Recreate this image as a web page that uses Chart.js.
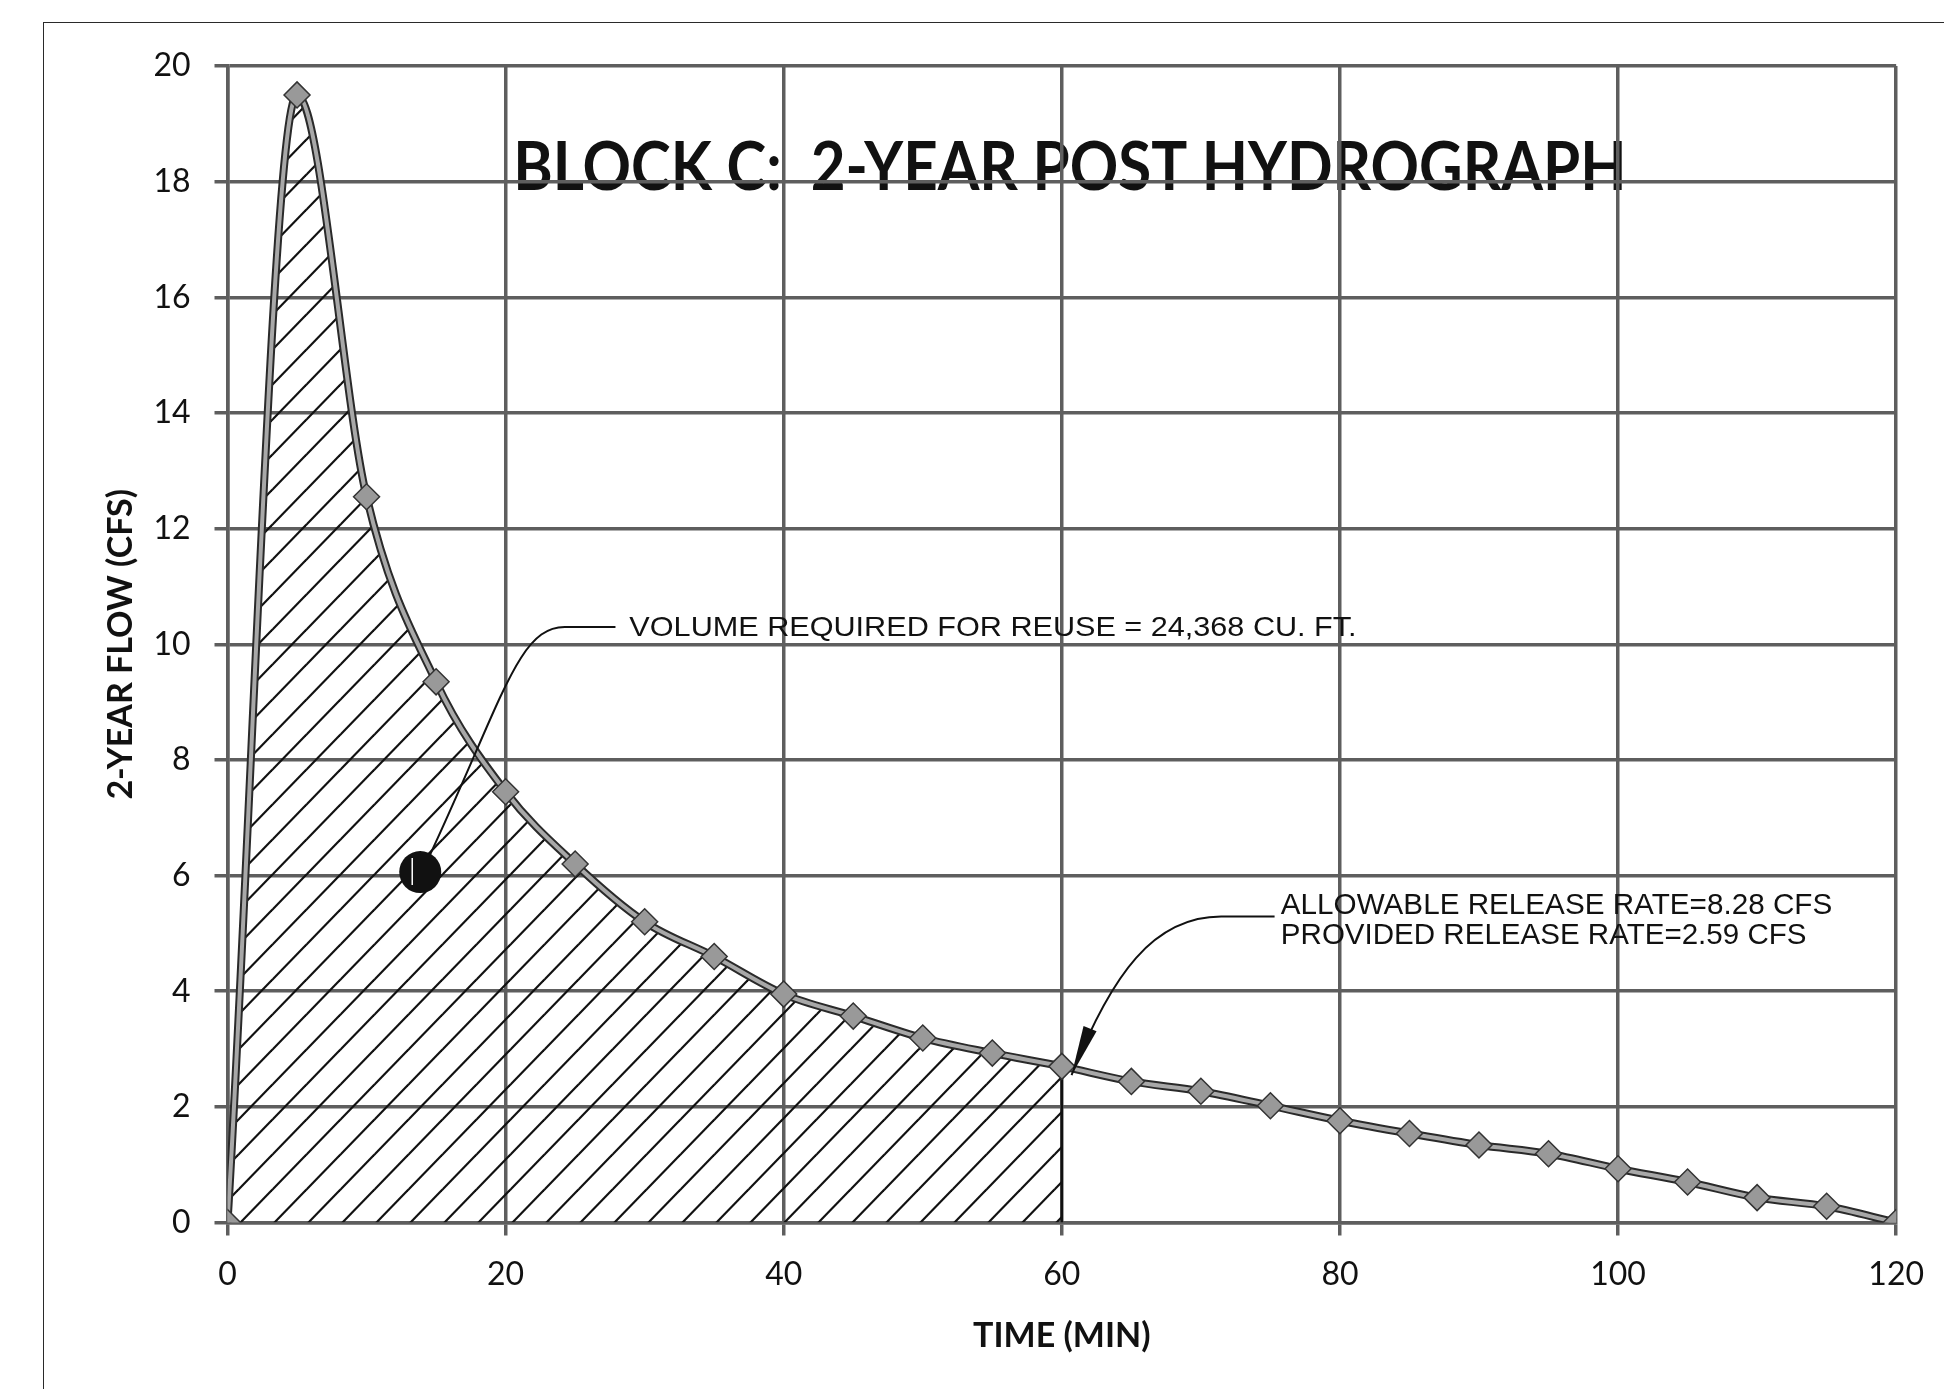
<!DOCTYPE html>
<html>
<head>
<meta charset="utf-8">
<title>Block C - 2-Year Post Hydrograph</title>
<script src="https://cdn.jsdelivr.net/npm/chart.js@4.4.1/dist/chart.umd.min.js"></script>
<style>
  html, body { margin: 0; padding: 0; background: #fff; overflow: hidden; }
  #wrap  { position: relative; width: 1944px; height: 1389px; }
  #frame { position: absolute; left: 43px; top: 22px; width: 2000px; height: 1500px;
           border-left: 1.5px solid #2a2a2a; border-top: 1.5px solid #2a2a2a; }
  #chart-hydrograph { position: absolute; left: 0; top: 0; }
</style>
</head>
<body>
<div id="wrap">
  <div id="frame"></div>
  <canvas id="chart-hydrograph" width="1944" height="1389"></canvas>
</div>
<script>
const timeMin = [0, 5, 10, 15, 20, 25, 30, 35, 40, 45, 50, 55, 60,
                 65, 70, 75, 80, 85, 90, 95, 100, 105, 110, 115, 120];
const flowCfs = [0, 19.5, 12.55, 9.35, 7.45, 6.2, 5.2, 4.6, 3.95, 3.57, 3.19, 2.93, 2.7,
                 2.44, 2.27, 2.02, 1.76, 1.54, 1.34, 1.19, 0.93, 0.70, 0.43, 0.28, 0];
const xTickValues = [0, 20, 40, 60, 80, 100, 120];
const yTickValues = [0, 2, 4, 6, 8, 10, 12, 14, 16, 18, 20];
const storageEndMin = 60;   // hatched volume ends at 60 min

const chartTitle  = 'BLOCK C:  2-YEAR POST HYDROGRAPH';
const xAxisTitle  = 'TIME (MIN)';
const yAxisTitle  = '2-YEAR FLOW (CFS)';
const volumeNote  = 'VOLUME REQUIRED FOR REUSE = 24,368 CU. FT.';
const releaseNote = ['ALLOWABLE RELEASE RATE=8.28 CFS', 'PROVIDED RELEASE RATE=2.59 CFS'];

/* ── styles ── */
const C = {
  grid  : '#5e5e5e',
  text  : '#111',
  lineDk: '#2a2a2a',
  lineLt: '#a8a8a8',
  marker: '#999',
  ink   : '#111',
};
/* smoothed line without the wiggles of a plain bezier */
const SMOOTH = { cubicInterpolationMode: 'monotone' };

const points    = timeMin.map((t, i) => ({ x: t, y: flowCfs[i] }));
const endIdx    = timeMin.indexOf(storageEndMin);
const stored    = points.slice(0, endIdx + 1);
const endMarker = [{ x: storageEndMin, y: 0 }, { x: storageEndMin, y: flowCfs[endIdx] }];

/* diagonal hatch pattern */
function hatchPattern() {
  const w = 34, h = 35;
  const c = document.createElement('canvas');
  c.width = w; c.height = h;
  const g = c.getContext('2d');
  g.strokeStyle = C.ink;
  g.lineWidth = 2.2;
  [-w, 0, w].forEach(dx => {
    g.beginPath();
    g.moveTo(-w + dx, 2 * h);
    g.lineTo(2 * w + dx, -h);
    g.stroke();
  });
  return g.createPattern(c, 'repeat');
}

/* squeeze text to a given pixel width (scanned fonts are condensed) */
function fitText(ctx, text, x, y, width) {
  const m = ctx.measureText(text).width;
  ctx.save();
  ctx.translate(x, y);
  ctx.scale(width / m, 1);
  ctx.fillText(text, 0, 0);
  ctx.restore();
}

/* title sits inside the plot, under the grid lines */
const titlePlugin = {
  id: 'plotTitle',
  beforeDraw(chart) {
    const { ctx, scales: { x, y } } = chart;
    ctx.save();
    ctx.fillStyle = C.ink;
    ctx.font = 'bold 67px Lato, "Open Sans", sans-serif';
    ctx.textBaseline = 'alphabetic';
    const x0 = x.getPixelForValue(20.55), x1 = x.getPixelForValue(100.6);
    fitText(ctx, chartTitle, x0, y.getPixelForValue(17.85), x1 - x0);
    ctx.restore();
  },
};

/* drafting notes, leaders, dot and arrow */
const notesPlugin = {
  id: 'notes',
  afterDatasetsDraw(chart) {
    const { ctx, scales: { x, y } } = chart;
    const P = (t, v) => [x.getPixelForValue(t), y.getPixelForValue(v)];
    ctx.save();
    ctx.fillStyle = C.ink;
    ctx.strokeStyle = C.ink;
    ctx.textBaseline = 'alphabetic';

    // volume note
    ctx.font = '28px "Liberation Sans Narrow", "Liberation Sans", sans-serif';
    let a = P(28.9, 10.14), b = P(81.2, 10.14);
    fitText(ctx, volumeNote, a[0], a[1], b[0] - a[0]);

    ctx.lineWidth = 2;
    ctx.beginPath();
    let p0 = P(27.9, 10.3), p1 = P(24.25, 10.3), c1 = P(20.9, 10.3), c2 = P(19.8, 9.05), pe = P(14.45, 6.3);
    ctx.moveTo(...p0); ctx.lineTo(...p1);
    ctx.bezierCurveTo(...c1, ...c2, ...pe);
    ctx.stroke();

    const d = P(13.86, 6.06);
    ctx.beginPath();
    ctx.arc(d[0], d[1], 21, 0, Math.PI * 2);
    ctx.fill();
    ctx.strokeStyle = '#fff';
    ctx.lineWidth = 1.5;
    ctx.beginPath();
    ctx.moveTo(d[0] - 8, d[1] - 14); ctx.lineTo(d[0] - 8, d[1] + 13);
    ctx.stroke();

    // release note
    ctx.strokeStyle = C.ink;
    ctx.font = '30px "Liberation Sans Narrow", "Liberation Sans", sans-serif';
    a = P(75.75, 5.34); b = P(115.4, 5.34);
    fitText(ctx, releaseNote[0], a[0], a[1], b[0] - a[0]);
    a = P(75.75, 4.82); b = P(113.55, 4.82);
    fitText(ctx, releaseNote[1], a[0], a[1], b[0] - a[0]);

    ctx.lineWidth = 2;
    ctx.beginPath();
    p0 = P(75.3, 5.29); p1 = P(71.46, 5.29); c1 = P(66.6, 5.29); c2 = P(63.6, 4.3); pe = P(60.7, 2.55);
    ctx.moveTo(...p0); ctx.lineTo(...p1);
    ctx.bezierCurveTo(...c1, ...c2, ...pe);
    ctx.stroke();

    // arrow head along the end tangent
    const ang = Math.atan2(pe[1] - c2[1], pe[0] - c2[0]);
    const L = 50, W = 7;
    ctx.beginPath();
    ctx.moveTo(pe[0], pe[1]);
    ctx.lineTo(pe[0] - L * Math.cos(ang) + W * Math.sin(ang), pe[1] - L * Math.sin(ang) - W * Math.cos(ang));
    ctx.lineTo(pe[0] - L * Math.cos(ang) - W * Math.sin(ang), pe[1] - L * Math.sin(ang) + W * Math.cos(ang));
    ctx.closePath();
    ctx.fill();
    ctx.restore();
  },
};

const cv = document.getElementById('chart-hydrograph');
new Chart(cv, {
  type: 'line',
  data: {
    datasets: [
      {
        label: 'flow',
        data : points,
        ...SMOOTH,
        borderColor: C.lineLt,
        borderWidth: 4,
        pointStyle: 'rectRot',
        pointRadius: 13,
        pointBackgroundColor: C.marker,
        pointBorderColor: '#333',
        pointBorderWidth: 1.5,
        order: 1,
      },
      {
        label: 'flow-edge',
        data : points,
        ...SMOOTH,
        borderColor: C.lineDk,
        borderWidth: 8,
        pointRadius: 0,
        order: 2,
      },
      {
        label: 'end-line',
        data : endMarker,
        borderColor: C.ink,
        borderWidth: 2.5,
        pointRadius: 0,
        order: 3,
      },
      {
        label: 'volume',
        data : stored,
        ...SMOOTH,
        borderWidth: 0,
        pointRadius: 0,
        fill: 'origin',
        backgroundColor: hatchPattern(),
        order: 4,
      },
    ],
  },
  options: {
    responsive: false,
    animation: false,
    events: [],
    layout: { padding: { left: 0, top: 66, right: 36, bottom: 0 } },
    plugins: {
      legend : { display: false },
      tooltip: { enabled: false },
    },
    scales: {
      x: {
        type: 'linear',
        min: 0, max: 120,
        afterBuildTicks: s => { s.ticks = xTickValues.map(v => ({ value: v })); },
        afterFit: s => { s.height = 166.5; },
        grid  : { color: C.grid, lineWidth: 3.5, tickLength: 13, tickColor: C.grid },
        border: { color: C.grid, width: 3.5 },
        ticks : { color: C.text, padding: 20, font: { family: 'Lato', size: 32 } },
        title : { display: true, text: xAxisTitle, color: C.ink,
                  font: { family: 'Lato', size: 34, weight: 'bold' }, padding: { top: 0, bottom: 33 } },
      },
      y: {
        min: 0, max: 20,
        afterBuildTicks: s => { s.ticks = yTickValues.map(v => ({ value: v })); },
        afterFit: s => { s.width = 227.5; },
        grid  : { color: C.grid, lineWidth: 3.5, tickLength: 13, tickColor: C.grid },
        border: { color: C.grid, width: 3.5 },
        ticks : { color: C.text, padding: 24, font: { family: 'Lato', size: 32 } },
        title : { display: true, text: yAxisTitle, color: C.ink,
                  font: { family: 'Lato', size: 34, weight: 'bold' }, padding: { top: 101, bottom: 0 } },
      },
    },
  },
  plugins: [titlePlugin, notesPlugin],
});
</script>
</body>
</html>
